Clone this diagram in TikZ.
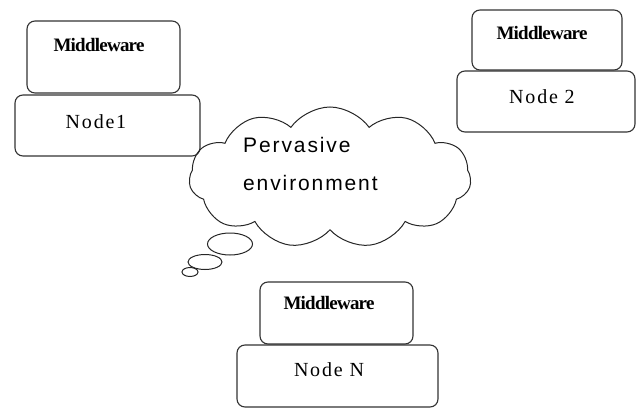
\documentclass[tikz,border=0pt]{standalone}
\usepackage{fontspec}
\setmainfont{Liberation Serif}
\newfontfamily\cloudfont[LetterSpace=9]{Liberation Sans}
\newfontfamily\nodefont[LetterSpace=9]{Liberation Serif}
\newfontfamily\mwfont[LetterSpace=-4]{Liberation Serif Bold}
\usetikzlibrary{shapes.symbols,shapes.geometric}
\begin{document}
\begin{tikzpicture}[x=1pt,y=-1pt,
  boxline/.style={draw=black!80, line width=1.1pt, rounded corners=8pt, fill=white},
  mwbox/.style={boxline},
  mwtext/.style={font=\mwfont\fontsize{19}{20}\selectfont, inner sep=0pt},
  ndtext/.style={font=\nodefont\fontsize{20}{22}\selectfont, inner sep=0pt},
  bubble/.style={draw=black!85, line width=1pt, ellipse, inner sep=0pt}]
\useasboundingbox (0,0) rectangle (637,409);
% Node 1
\draw[mwbox] (27,21) rectangle (180,93);
\draw[boxline] (15,95) rectangle (200,156);
\node[mwtext] (mw1) at (99,45) {Middleware};
\node[ndtext] (n1) at (96,122) {Node1};
% Node 2
\draw[mwbox] (472,10) rectangle (622,70);
\draw[boxline] (457,71) rectangle (635,132);
\node[mwtext] (mw2) at (542,33) {Middleware};
\node[ndtext] (n2) at (542,97) {Node 2};
% Node N
\draw[mwbox] (260,282) rectangle (413,344);
\draw[boxline] (237,345) rectangle (438,407);
\node[mwtext] (mw3) at (329,303) {Middleware};
\node[ndtext] (n3) at (329,370) {Node N};
% cloud
\node[cloud, draw=black!85, line width=1pt, cloud puffs=11, cloud puff arc=110, aspect=2,
  minimum width=282pt, minimum height=141pt, inner sep=0pt] (cl) at (330,177.5) {};
\node[font=\cloudfont\fontsize{21}{38}\selectfont, align=left, anchor=north west, inner sep=0pt] (ct) at (243,137) {Pervasive\\environment};
\node[bubble, minimum width=45pt, minimum height=22pt] (b1) at (230,244) {};
\node[bubble, minimum width=34pt, minimum height=15pt] (b2) at (205,262) {};
\node[bubble, minimum width=16pt, minimum height=9pt] (b3) at (190,272) {};
\end{tikzpicture}
\end{document}
